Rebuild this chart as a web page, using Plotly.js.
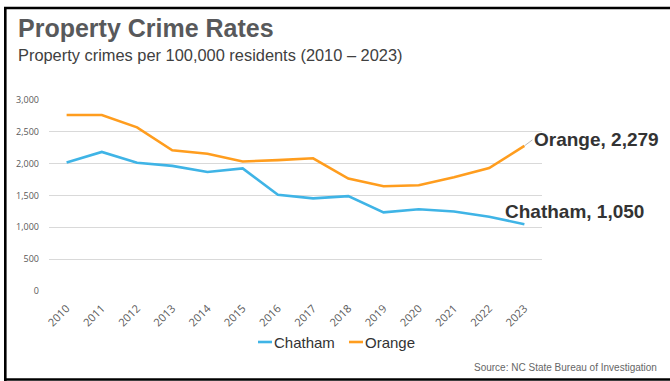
<!DOCTYPE html>
<html>
<head>
<meta charset="utf-8">
<script src="https://cdn.plot.ly/plotly-3.0.1.min.js"></script>
<style>
  html, body { margin: 0; padding: 0; background: #fff; }
  #chart { width: 670px; height: 381px; }
</style>
</head>
<body>
<div id="chart"></div>
<script>
// ---- data ----
const years = ['2010','2011','2012','2013','2014','2015','2016','2017','2018','2019','2020','2021','2022','2023'];
const chatham = [2020, 2185, 2015, 1965, 1870, 1925, 1510, 1455, 1490, 1235, 1285, 1250, 1165, 1050];
const orange  = [2765, 2765, 2570, 2210, 2155, 2035, 2055, 2085, 1765, 1645, 1660, 1785, 1930, 2279];
const seriesNames = ['Chatham', 'Orange'];
const yTicks = [0, 500, 1000, 1500, 2000, 2500, 3000];

const titleText = 'Property Crime Rates';
const subtitleText = 'Property crimes per 100,000 residents (2010 \u2013 2023)';
const sourceText = 'Source: NC State Bureau of Investigation';

const colors = { Chatham: '#3FB4E6', Orange: '#FF9D1E' };

// ---- layout geometry (pixels) ----
const W = 670, H = 381;
const M = { l: 49, r: 128, t: 100, b: 90 };
const PW = W - M.l - M.r, PH = H - M.t - M.b;
const px = x => (x - M.l) / PW;          // pixel x -> paper x
const py = y => (H - M.b - y) / PH;      // pixel y -> paper y

const fmt = v => v.toLocaleString('en-US');
const last = a => a[a.length - 1];
const lastIdx = years.length - 1;        // category index of the last year

const traces = [
  { x: years, y: chatham, name: seriesNames[0], type: 'scatter', mode: 'lines',
    line: { color: colors.Chatham, width: 2.6 }, showlegend: false, hoverinfo: 'x+y+name' },
  { x: years, y: orange, name: seriesNames[1], type: 'scatter', mode: 'lines',
    line: { color: colors.Orange, width: 2.6 }, showlegend: false, hoverinfo: 'x+y+name' }
];

const baseFont = 'Liberation Sans, Arial, sans-serif';

const annotations = [
  { xref: 'paper', yref: 'paper', x: px(16), y: py(28), xanchor: 'left', yanchor: 'middle',
    text: '<b>' + titleText + '</b>', showarrow: false,
    font: { family: baseFont, size: 25, color: '#58595B' } },
  { xref: 'paper', yref: 'paper', x: px(16), y: py(55), xanchor: 'left', yanchor: 'middle',
    text: subtitleText, showarrow: false,
    font: { family: baseFont, size: 16.4, color: '#404040' } },
  // end labels
  { x: lastIdx, y: last(orange), xref: 'x', yref: 'y',
    text: '<b>' + seriesNames[1] + ', ' + fmt(last(orange)) + '</b>',
    showarrow: true, arrowhead: 0, arrowwidth: 0.8, arrowcolor: '#A6A6A6',
    ax: 8, ay: -6, xanchor: 'left', yanchor: 'middle', standoff: 0,
    font: { family: baseFont, size: 19, color: '#333333' } },
  { x: lastIdx, y: last(chatham), xref: 'x', yref: 'y',
    text: '<b>' + seriesNames[0] + ', ' + fmt(last(chatham)) + '</b>',
    showarrow: false, xanchor: 'left', yanchor: 'middle', xshift: -21, yshift: 13,
    font: { family: baseFont, size: 19, color: '#333333' } },
  // legend text
  { xref: 'paper', yref: 'paper', x: px(272), y: py(342), xanchor: 'left', yanchor: 'middle',
    text: seriesNames[0], showarrow: false,
    font: { family: baseFont, size: 15, color: '#333333' } },
  { xref: 'paper', yref: 'paper', x: px(363), y: py(342), xanchor: 'left', yanchor: 'middle',
    text: seriesNames[1], showarrow: false,
    font: { family: baseFont, size: 15, color: '#333333' } },
  // source
  { xref: 'paper', yref: 'paper', x: px(659), y: py(367), xanchor: 'right', yanchor: 'middle',
    text: sourceText, showarrow: false,
    font: { family: baseFont, size: 10, color: '#666666' } }
];

const shapes = [
  // legend samples
  { type: 'line', xref: 'paper', yref: 'paper', x0: px(258), x1: px(272), y0: py(342), y1: py(342),
    line: { color: colors.Chatham, width: 2.6 } },
  { type: 'line', xref: 'paper', yref: 'paper', x0: px(349), x1: px(363), y0: py(342), y1: py(342),
    line: { color: colors.Orange, width: 2.6 } },
  // frame
  { type: 'line', xref: 'paper', yref: 'paper', x0: px(4), x1: px(672), y0: py(8), y1: py(8),
    line: { color: '#000000', width: 2.6 } },
  { type: 'line', xref: 'paper', yref: 'paper', x0: px(5.3), x1: px(5.3), y0: py(7), y1: py(381),
    line: { color: '#000000', width: 2.6 } },
  { type: 'line', xref: 'paper', yref: 'paper', x0: px(4), x1: px(672), y0: py(379.5), y1: py(379.5),
    line: { color: '#000000', width: 2.6 } }
];

const layout = {
  width: W, height: H,
  margin: M,
  paper_bgcolor: '#ffffff', plot_bgcolor: '#ffffff',
  showlegend: false,
  xaxis: {
    type: 'category', range: [-0.5, years.length - 0.5],
    showgrid: false, zeroline: false, showline: false, ticks: '',
    tickangle: -45, ticklabelstandoff: 8,
    tickfont: { family: 'Open Sans, sans-serif', size: 11, color: '#595959' },
    fixedrange: true
  },
  yaxis: {
    range: [0, 3000], tickvals: yTicks, ticktext: yTicks.map(fmt),
    showgrid: true, gridcolor: '#D9D9D9', gridwidth: 1,
    zeroline: false, showline: false, ticks: '', ticklabelstandoff: 9,
    tickfont: { family: 'Open Sans, sans-serif', size: 9, color: '#595959' },
    fixedrange: true
  },
  annotations: annotations,
  shapes: shapes
};

Plotly.newPlot('chart', traces, layout, { displayModeBar: false, staticPlot: true });
</script>
</body>
</html>
